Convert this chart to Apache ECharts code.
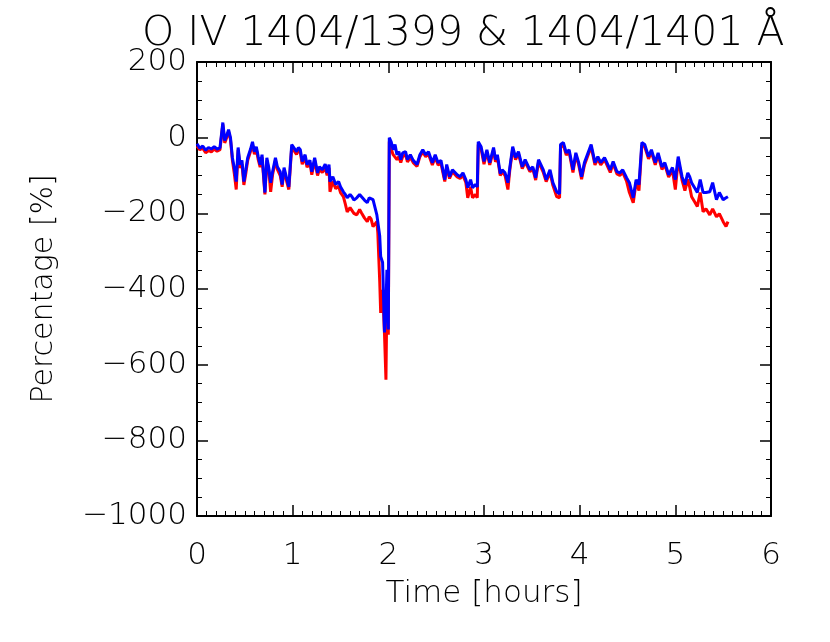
<!DOCTYPE html>
<html>
<head>
<meta charset="utf-8">
<script src="https://cdn.jsdelivr.net/npm/echarts@6/dist/echarts.min.js"></script>
<style>
  html, body { margin: 0; padding: 0; background: #fff; }
  #chart { width: 830px; height: 642px; }
</style>
</head>
<body>
<div id="chart"></div>
<script>
// time in hours, shared by both ratio curves
const timeHours = [
  0.00, 0.03, 0.06, 0.09, 0.12, 0.15, 0.18, 0.21, 0.24, 0.27,
  0.29, 0.31, 0.33, 0.35, 0.37, 0.39, 0.41, 0.43, 0.45, 0.47,
  0.49, 0.51, 0.53, 0.56, 0.58, 0.60, 0.62, 0.64, 0.66, 0.68,
  0.71, 0.73, 0.75, 0.77, 0.79, 0.82, 0.84, 0.87, 0.89, 0.91,
  0.94, 0.96, 0.99, 1.01, 1.04, 1.06, 1.08, 1.10, 1.13, 1.15,
  1.18, 1.20, 1.23, 1.26, 1.28, 1.31, 1.34, 1.36, 1.38, 1.39,
  1.42, 1.45, 1.48, 1.50, 1.53, 1.55, 1.57, 1.60, 1.62, 1.64,
  1.67, 1.70, 1.72, 1.75, 1.78, 1.80, 1.82, 1.84, 1.86, 1.88,
  1.89, 1.91, 1.92, 1.94, 1.96, 1.975, 1.985, 2.00, 2.01, 2.03,
  2.05, 2.07, 2.09, 2.11, 2.13, 2.15, 2.18, 2.20, 2.23, 2.26,
  2.30, 2.33, 2.36, 2.39, 2.42, 2.46, 2.49, 2.52, 2.55, 2.59,
  2.61, 2.64, 2.67, 2.72, 2.75, 2.78, 2.81, 2.83, 2.86, 2.88,
  2.91, 2.93, 2.94, 2.97, 3.00, 3.03, 3.06, 3.10, 3.12, 3.14,
  3.17, 3.19, 3.22, 3.25, 3.27, 3.30, 3.33, 3.36, 3.40, 3.43,
  3.48, 3.51, 3.54, 3.57, 3.62, 3.65, 3.69, 3.72, 3.76, 3.79,
  3.80, 3.83, 3.86, 3.89, 3.93, 3.96, 3.99, 4.02, 4.05, 4.12,
  4.16, 4.19, 4.22, 4.26, 4.32, 4.35, 4.39, 4.42, 4.45, 4.49,
  4.52, 4.56, 4.59, 4.62, 4.65, 4.68, 4.72, 4.75, 4.79, 4.82,
  4.86, 4.89, 4.93, 4.97, 5.00, 5.03, 5.07, 5.10, 5.13, 5.15,
  5.17, 5.20, 5.23, 5.26, 5.29, 5.32, 5.36, 5.39, 5.43, 5.46,
  5.50, 5.53, 5.55
];

// 1404/1401 ratio (blue)
const bluePct = [
  -16, -28, -22, -33, -26, -30, -24, -30, -27, 40,
  -8, 5, 21, 0, -53, -80, -116, -26, -71, -60,
  -116, -85, -53, -30, -11, -37, -24, -50, -71, -45,
  -145, -53, -79, -119, -90, -53, -77, -90, -124, -79,
  -110, -130, -18, -13, -37, -26, -32, -63, -45, -71,
  -60, -90, -53, -93, -77, -85, -70, -93, -71, -116,
  -103, -124, -116, -130, -143, -150, -159, -150, -156, -165,
  -159, -150, -156, -165, -172, -159, -164, -164, -167, -204,
  -209, -260, -314, -330, -515, -450, -349, -507, 0, -11,
  -32, -18, -45, -37, -58, -40, -37, -58, -45, -60,
  -71, -45, -32, -45, -37, -66, -45, -66, -60, -111,
  -71, -103, -85, -98, -103, -93, -111, -132, -111, -132,
  -124, -130, -11, -24, -63, -32, -66, -26, -58, -45,
  -95, -85, -93, -119, -79, -24, -53, -37, -77, -58,
  -85, -77, -106, -58, -85, -111, -85, -119, -143, -148,
  -18, -13, -40, -32, -85, -40, -66, -103, -66, -18,
  -66, -50, -66, -53, -85, -63, -90, -93, -85, -106,
  -119, -159, -111, -124, -13, -18, -50, -32, -66, -40,
  -77, -66, -98, -79, -111, -50, -103, -124, -93, -103,
  -119, -132, -145, -111, -145, -145, -143, -119, -164, -145,
  -164, -159, -156
];

// 1404/1399 ratio (red)
const redPct = [
  -22, -32, -28, -40, -34, -38, -30, -36, -32, 35,
  -14, 0, 16, -5, -60, -95, -137, -32, -80, -70,
  -125, -95, -60, -36, -18, -44, -30, -58, -78, -52,
  -150, -60, -86, -143, -98, -60, -84, -100, -130, -86,
  -118, -137, -25, -20, -44, -34, -40, -70, -52, -78,
  -66, -98, -60, -100, -84, -92, -80, -100, -80, -143,
  -115, -135, -128, -145, -156, -175, -196, -185, -182, -200,
  -204, -190, -199, -212, -222, -209, -215, -235, -238, -222,
  -251, -380, -463, -402, -520, -640, -420, -521, -10, -30,
  -45, -40, -58, -50, -66, -50, -45, -64, -52, -66,
  -76, -50, -38, -50, -44, -72, -52, -72, -68, -116,
  -78, -108, -90, -104, -108, -100, -118, -159, -130, -159,
  -150, -159, -18, -30, -70, -38, -72, -32, -64, -52,
  -100, -90, -100, -137, -85, -30, -58, -42, -82, -64,
  -90, -82, -112, -64, -92, -116, -92, -126, -156, -159,
  -25, -20, -46, -38, -92, -46, -72, -110, -72, -24,
  -72, -56, -72, -58, -92, -68, -96, -100, -92, -115,
  -145, -172, -118, -140, -20, -24, -56, -38, -72, -46,
  -84, -72, -104, -86, -137, -58, -112, -140, -110, -130,
  -156, -169, -182, -145, -196, -188, -204, -188, -209, -201,
  -222, -235, -222
];

const xTicks = [0, 1, 2, 3, 4, 5, 6];
const yTicks = [-1000, -800, -600, -400, -200, 0, 200];

const chart = echarts.init(document.getElementById('chart'), null, { renderer: 'canvas' });

const font = 'DejaVu Sans';
const axisBase = {
  type: 'value',
  axisLine: { show: true, onZero: false, lineStyle: { color: '#000', width: 2 } },
  axisTick: { show: true, inside: true, length: 11, lineStyle: { color: '#000', width: 1.5 } },
  minorTick: { show: true, length: 5, lineStyle: { color: '#000', width: 1 } },
  splitLine: { show: false },
  minorSplitLine: { show: false }
};

chart.setOption({
  animation: false,
  backgroundColor: '#fff',
  title: {
    text: 'O IV 1404/1399 & 1404/1401 Å',
    left: 137,
    top: 9,
    textStyle: { fontFamily: font, fontSize: 41, fontWeight: 'lighter', color: '#000' }
  },
  grid: { left: 197, right: 59, top: 62, bottom: 126 },
  xAxis: [
    Object.assign({}, axisBase, {
      min: xTicks[0], max: xTicks[xTicks.length - 1], interval: 1,
      position: 'bottom',
      minorTick: Object.assign({}, axisBase.minorTick, { splitNumber: 10 }),
      axisLabel: { margin: 24, fontFamily: font, fontSize: 31, fontWeight: 'lighter', color: '#000' },
      name: 'Time [hours]',
      nameLocation: 'middle',
      nameGap: 62,
      nameTextStyle: { fontFamily: font, fontSize: 31, fontWeight: 'lighter', color: '#000' }
    }),
    Object.assign({}, axisBase, {
      min: xTicks[0], max: xTicks[xTicks.length - 1], interval: 1,
      position: 'top',
      minorTick: Object.assign({}, axisBase.minorTick, { splitNumber: 10 }),
      axisLabel: { show: false }
    })
  ],
  yAxis: [
    Object.assign({}, axisBase, {
      min: yTicks[0], max: yTicks[yTicks.length - 1], interval: 200,
      position: 'left',
      minorTick: Object.assign({}, axisBase.minorTick, { splitNumber: 4 }),
      axisLabel: {
        margin: 10, fontFamily: font, fontSize: 31, fontWeight: 'lighter', color: '#000',
        formatter: v => String(v).replace('-', '\u2212')
      },
      name: 'Percentage [%]',
      nameLocation: 'middle',
      nameGap: 138,
      nameTextStyle: { fontFamily: font, fontSize: 30, fontWeight: 'lighter', color: '#000' }
    }),
    Object.assign({}, axisBase, {
      min: yTicks[0], max: yTicks[yTicks.length - 1], interval: 200,
      position: 'right',
      minorTick: Object.assign({}, axisBase.minorTick, { splitNumber: 4 }),
      axisLabel: { show: false }
    })
  ],
  series: [
    {
      name: '1404/1399',
      type: 'line',
      xAxisIndex: 0,
      yAxisIndex: 0,
      showSymbol: false,
      lineStyle: { color: '#ff0000', width: 3 },
      data: timeHours.map((t, i) => [t, redPct[i]])
    },
    {
      name: '1404/1401',
      type: 'line',
      xAxisIndex: 0,
      yAxisIndex: 0,
      showSymbol: false,
      lineStyle: { color: '#0000ff', width: 3 },
      data: timeHours.map((t, i) => [t, bluePct[i]])
    }
  ]
});
</script>
</body>
</html>
